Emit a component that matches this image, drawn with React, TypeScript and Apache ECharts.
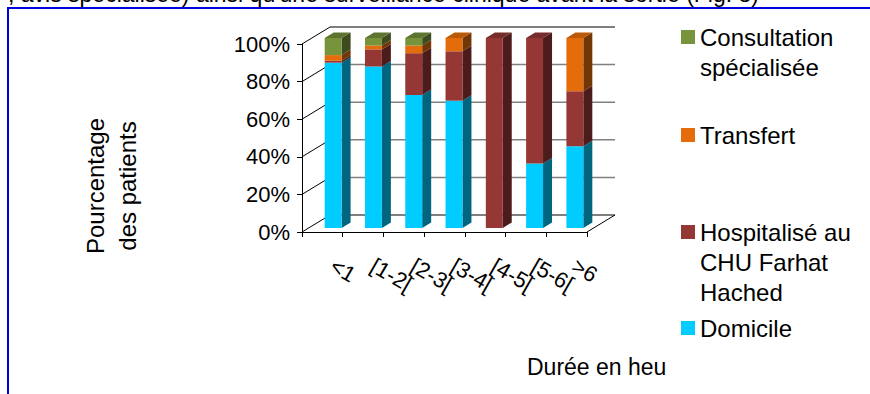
import React, { useEffect, useRef } from 'react';
import * as echarts from 'echarts';

// Durée de séjour (heures) et devenir des patients, en pourcentage
const categories = ['<1', '[1-2[', '[2-3[', '[3-4[', '[4-5[', '[5-6[', '>6'];
const domicile = [87, 85, 70, 67, 0, 34, 43];
const hospitalise = [1, 9, 22, 26, 100, 66, 29];
const transfert = [3, 2, 4, 7, 0, 0, 28];
const consultation = [9, 4, 4, 0, 0, 0, 0];
const percentTicks = [0, 20, 40, 60, 80, 100];

const FONT = '"Liberation Sans", Arial, sans-serif';

// stacking order, bottom to top
const stackDefs = [
  { name: 'Domicile', values: domicile, front: '#00CCFF', side: '#00657F', top: '#0099BF' },
  { name: 'Hospitalisé au CHU Farhat Hached', values: hospitalise, front: '#953735', side: '#4B1C1B', top: '#762C2A' },
  { name: 'Transfert', values: transfert, front: '#E46C0A', side: '#733705', top: '#BA5A08' },
  { name: 'Consultation spécialisée', values: consultation, front: '#77933C', side: '#3D4B1F', top: '#5C7430' },
];

const legendOrder = [
  { name: 'Consultation spécialisée', lines: ['Consultation', 'spécialisée'], center: 37 },
  { name: 'Transfert', lines: ['Transfert'], center: 135 },
  { name: 'Hospitalisé au CHU Farhat Hached', lines: ['Hospitalisé au', 'CHU Farhat', 'Hached'], center: 232 },
  { name: 'Domicile', lines: ['Domicile'], center: 328 },
];

const LEGEND_LINE = 30;

// depth of a bar and of the whole box, in pixels
const BAR_DEPTH: [number, number] = [9, -5.5];
const BOX_DEPTH: [number, number] = [28, -17];

function buildBarSeries() {
  // topmost non-empty segment of each column carries the lid
  const topIndex = categories.map((_, i) => {
    let t = -1;
    stackDefs.forEach((s, k) => {
      if (s.values[i] > 0) t = k;
    });
    return t;
  });
  const bases = categories.map(() => 0);
  return stackDefs.map((def, k) => {
    const data = categories.map((_, i) => {
      const item = [i, bases[i], def.values[i], topIndex[i] === k ? 1 : 0];
      bases[i] += def.values[i];
      return item;
    });
    return {
      type: 'custom',
      name: def.name,
      xAxisIndex: 0,
      yAxisIndex: 0,
      z: 5,
      clip: false,
      itemStyle: { color: def.front },
      encode: { x: 0, y: 2 },
      data,
      renderItem: (params: any, api: any) => {
        const ci = api.value(0);
        const base = api.value(1);
        const val = api.value(2);
        const isTop = api.value(3);
        if (!val) return null;
        const pB = api.coord([ci, base]);
        const pT = api.coord([ci, base + val]);
        const band = api.size([1, 0])[0];
        const w = band * 0.42;
        const L = pB[0] - w / 2 + 1;
        const R = L + w;
        const yB = pB[1];
        const yT = pT[1];
        const [dx, dy] = BAR_DEPTH;
        const children: any[] = [
          {
            type: 'polygon',
            shape: { points: [[R, yT], [R + dx, yT + dy], [R + dx, yB + dy], [R, yB]] },
            style: { fill: def.side },
          },
          {
            type: 'rect',
            shape: { x: L, y: yT, width: w, height: yB - yT },
            style: { fill: def.front },
          },
        ];
        if (isTop) {
          children.push({
            type: 'polygon',
            shape: { points: [[L, yT], [L + dx, yT + dy], [R + dx, yT + dy], [R, yT]] },
            style: { fill: def.top },
          });
        }
        return { type: 'group', children };
      },
    };
  });
}

function buildFrameSeries() {
  return {
    type: 'custom',
    name: 'cadre',
    xAxisIndex: 2,
    yAxisIndex: 1,
    z: 1,
    clip: false,
    silent: true,
    data: percentTicks.map((v) => [0, v]),
    encode: { x: 0, y: 1 },
    renderItem: (params: any, api: any) => {
      const v = api.value(1);
      const a = api.coord([0, v]);
      const b = api.coord([1, v]);
      const [dx, dy] = BOX_DEPTH;
      const edge = v === 0 || v === 100;
      const children: any[] = [
        {
          type: 'line',
          shape: { x1: a[0] + dx, y1: a[1] + dy, x2: b[0] + dx, y2: b[1] + dy },
          style: { stroke: edge ? '#000' : '#808080', lineWidth: edge ? 1.2 : 1.5 },
        },
        {
          type: 'line',
          shape: { x1: a[0], y1: a[1], x2: a[0] + dx, y2: a[1] + dy },
          style: { stroke: '#000', lineWidth: 1 },
        },
      ];
      if (v === 0) {
        children.push({
          type: 'line',
          shape: { x1: b[0], y1: b[1], x2: b[0] + dx, y2: b[1] + dy },
          style: { stroke: '#000', lineWidth: 1 },
        });
      }
      return { type: 'group', children };
    },
  };
}

function buildOption(): any {
  // the legend centres its text on the swatch, so blank lines are put
  // above multi-line names to keep the swatch level with the first line
  const legends = legendOrder.map((item) => {
    const n = item.lines.length;
    const label = [...Array(n - 1).fill(''), ...item.lines].join('\n');
    return {
      data: [item.name],
      orient: 'vertical',
      left: 681,
      top: item.center - LEGEND_LINE / 2 - LEGEND_LINE * (n - 1),
      padding: 0,
      icon: 'rect',
      itemWidth: 14,
      itemHeight: 14,
      selectedMode: false,
      formatter: () => label,
      textStyle: {
        fontFamily: FONT,
        fontSize: 24,
        lineHeight: LEGEND_LINE,
        color: '#000',
      },
    };
  });

  return {
    animation: false,
    backgroundColor: '#fff',
    textStyle: { fontFamily: FONT },
    legend: legends,
    grid: [
      // plane through the front faces of the bars
      { left: 312, top: 38, width: 282, height: 190 },
      // front plane of the box, carrying the axes
      { left: 302, top: 44, width: 285, height: 188 },
    ],
    xAxis: [
      {
        type: 'category',
        gridIndex: 0,
        data: categories,
        axisLine: { show: false },
        axisTick: { show: false },
        axisLabel: {
          interval: 0,
          rotate: -30,
          margin: 36,
          fontSize: 22,
          color: '#000',
          fontFamily: FONT,
        },
      },
      {
        type: 'category',
        gridIndex: 1,
        data: categories,
        axisLine: { show: true, lineStyle: { color: '#000', width: 1 } },
        axisTick: { show: true, length: 5, lineStyle: { color: '#000' } },
        axisLabel: { show: false },
      },
      { type: 'value', gridIndex: 1, min: 0, max: 1, show: false },
    ],
    yAxis: [
      { type: 'value', gridIndex: 0, min: 0, max: 100, show: false },
      {
        type: 'value',
        gridIndex: 1,
        min: 0,
        max: 100,
        interval: 20,
        axisLine: { show: true, lineStyle: { color: '#000', width: 1 } },
        axisTick: { show: true, length: 5, lineStyle: { color: '#000' } },
        splitLine: { show: false },
        axisLabel: {
          formatter: '{value}%',
          fontSize: 22,
          color: '#000',
          margin: 12,
          fontFamily: FONT,
        },
      },
    ],
    graphic: [
      {
        type: 'text',
        x: 8,
        y: 5,
        silent: true,
        style: {
          text: ", avis spécialisée) ainsi qu'une surveillance clinique avant la sortie (Fig. 8)",
          fontSize: 23,
          fontFamily: FONT,
          fill: '#000',
          verticalAlign: 'bottom',
        },
      },
      {
        type: 'line',
        silent: true,
        shape: { x1: 7, y1: 8, x2: 870, y2: 8 },
        style: { stroke: '#0000E0', lineWidth: 2 },
      },
      {
        type: 'line',
        silent: true,
        shape: { x1: 8, y1: 8, x2: 8, y2: 394 },
        style: { stroke: '#0000E0', lineWidth: 2 },
      },
      {
        type: 'text',
        x: 111,
        y: 186,
        rotation: Math.PI / 2,
        silent: true,
        style: {
          text: 'Pourcentage\ndes patients',
          fontSize: 24,
          lineHeight: 32,
          fontFamily: FONT,
          fill: '#000',
          align: 'center',
          verticalAlign: 'middle',
        },
      },
      {
        type: 'text',
        x: 527,
        y: 367,
        silent: true,
        style: {
          text: 'Durée en heures',
          fontSize: 23,
          fontFamily: FONT,
          fill: '#000',
          verticalAlign: 'middle',
          width: 146,
          overflow: 'truncate',
          ellipsis: '',
        },
      },
    ],
    series: [buildFrameSeries(), ...buildBarSeries()],
  };
}

export default function App() {
  const ref = useRef<HTMLDivElement>(null);
  useEffect(() => {
    if (!ref.current) return;
    const chart = echarts.init(ref.current, null, { renderer: 'svg' });
    chart.setOption(buildOption());
    return () => chart.dispose();
  }, []);
  return (
    <div
      ref={ref}
      style={{ position: 'fixed', left: 0, top: 0, width: 870, height: 394, background: '#fff' }}
    />
  );
}
